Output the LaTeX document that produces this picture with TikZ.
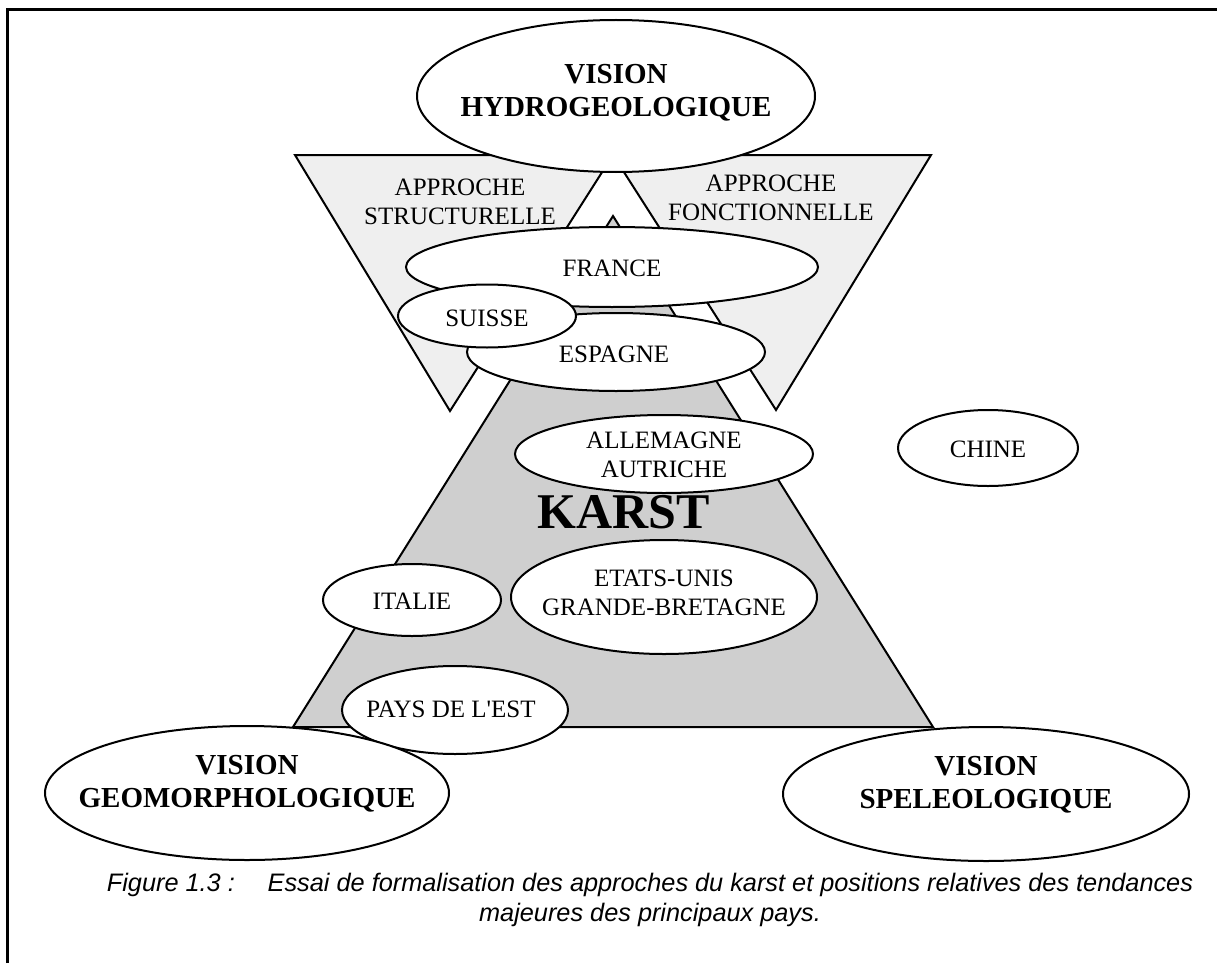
\documentclass[tikz,border=0pt]{standalone}
\usepackage{fontspec}
\setmainfont{Liberation Serif}
\newfontfamily\capsans{Liberation Sans}
\usetikzlibrary{shapes.geometric}
\definecolor{paleshade}{HTML}{EFEFEF}
\definecolor{karstshade}{HTML}{CFCFCF}
\begin{document}
\begin{tikzpicture}[x=1pt,y=-1pt,
  outline/.style={draw=black, line width=2pt, line join=miter},
  approach/.style={outline, fill=paleshade},
  karstzone/.style={outline, fill=karstshade},
  blob/.style={ellipse, outline, fill=white, inner sep=0pt},
  plain/.style={font=\fontsize{25}{29.5}\selectfont, align=center, inner sep=0pt},
  visiontext/.style={font=\fontsize{29}{33}\selectfont\bfseries, align=center, inner sep=0pt},
  caption/.style={font=\capsans\itshape\fontsize{25.3}{30}\selectfont, align=center, inner sep=0pt}]

\path[use as bounding box] (0,0) rectangle (1217,963);

% frame
\draw[line width=3pt] (7,963) -- (7,10) -- (1217,10);

% the two approach triangles and the karst triangle
\draw[approach] (295,155) -- (613,155) -- (450,411) -- cycle;
\draw[approach] (613,155) -- (931,155) -- (776,410) -- cycle;
\draw[karstzone] (293,727) -- (933,727) -- (613,216) -- cycle;

% hydrogeological vision
\node[blob, minimum width=398pt, minimum height=152pt] (hyd) at (616,96) {};
\node[visiontext] (hydt) at (616,93) {VISION\\HYDROGEOLOGIQUE};

\node[plain] (struct) at (460,202) {APPROCHE\\STRUCTURELLE};
\node[plain] (fonct) at (771,198) {APPROCHE\\FONCTIONNELLE};

% countries
\node[blob, minimum width=412pt, minimum height=80pt] (fr) at (612,267) {};
\node[plain] (frt) at (612,268) {FRANCE};

\node[blob, minimum width=298pt, minimum height=78pt] (es) at (616,352) {};
\node[plain] (est) at (614,354) {ESPAGNE};

\node[blob, minimum width=178pt, minimum height=63pt] (ch) at (487,316) {};
\node[plain] (cht) at (487,318) {SUISSE};

\node[blob, minimum width=298pt, minimum height=78pt] (de) at (664,454) {};
\node[plain] (det) at (664,455) {ALLEMAGNE\\AUTRICHE};

\node[font=\fontsize{50}{50}\selectfont\bfseries, inner sep=0pt] (karst) at (624,512) {KARST};

\node[blob, minimum width=306pt, minimum height=114pt] (us) at (664,597) {};
\node[plain] (ust) at (664,593) {ETATS-UNIS\\GRANDE-BRETAGNE};

\node[blob, minimum width=178pt, minimum height=72pt] (it) at (412,600) {};
\node[plain] (itt) at (412,601) {ITALIE};

\node[blob, minimum width=226pt, minimum height=88pt] (east) at (455,710) {};
\node[plain] (eastt) at (451,709) {PAYS DE L\textquotesingle EST};

\node[blob, minimum width=180pt, minimum height=76pt] (cn) at (988,448) {};
\node[plain] (cnt) at (988,449) {CHINE};

% geomorphological and speleological visions
\node[blob, minimum width=404pt, minimum height=134pt] (geo) at (247,793) {};
\node[visiontext] (geot) at (247,784) {VISION\\GEOMORPHOLOGIQUE};

\node[blob, minimum width=406pt, minimum height=134pt] (spe) at (986,794) {};
\node[visiontext] (spet) at (986,785) {VISION\\SPELEOLOGIQUE};

% caption
\node[caption] (cap) at (650,900) {Figure 1.3 :\hspace{1.3em}Essai de formalisation des approches du karst et positions relatives des tendances\\majeures des principaux pays.};

\end{tikzpicture}
\end{document}
